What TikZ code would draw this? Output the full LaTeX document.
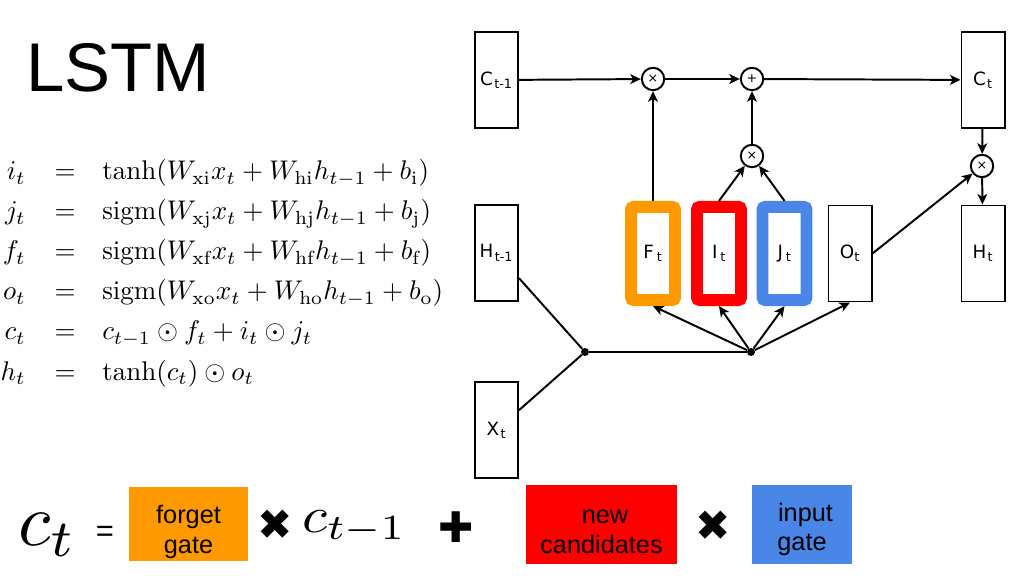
\documentclass[tikz,border=0pt]{standalone}
\usepackage{amsmath}
\usepackage{graphicx}
\usepackage{fontspec}
\setsansfont{Liberation Sans}
\newfontfamily\cellfont{DejaVu Sans}
\usetikzlibrary{arrows.meta}

\definecolor{gorange}{HTML}{FF9900}
\definecolor{gred}{HTML}{FF0000}
\definecolor{gblue}{HTML}{4A86E8}

\tikzset{
    >={Stealth[length=7.5pt, width=7pt, inset=2pt]},
    cell/.style={draw, line width=1.4pt, minimum width=1.075cm, minimum height=2.4cm,
        inner sep=0pt, font=\cellfont\fontsize{13}{15}\selectfont},
    gate/.style={cell, line width=8.5pt, rounded corners=2pt, minimum width=1.1cm, minimum height=2.33cm},
    op/.style={draw, circle, line width=1.4pt, minimum size=0.56cm, inner sep=0pt,
        font=\cellfont\fontsize{9}{9}\selectfont},
    dot/.style={fill, circle, minimum size=0.2cm, inner sep=0pt},
    link/.style={line width=1.4pt},
    eqn/.style={inner sep=0pt, font=\fontsize{10}{12}\selectfont},
    card/.style={align=center, inner sep=0pt, font=\sffamily\fontsize{18}{21}\selectfont},
    bigsym/.style={inner sep=0pt, font=\cellfont\fontsize{30}{30}\selectfont},
}

\newcommand{\eqscale}[1]{\scalebox{1.92}{$#1$}}
\newcommand{\cardtop}[1][24pt]{\rule{0pt}{#1}}

\begin{document}
\begin{tikzpicture}[x=0.025cm, y=-0.025cm]

    \useasboundingbox (0,0) rectangle (1024,576);

    % Title
    \node[font=\sffamily\fontsize{49}{55}\selectfont] (title) at (118,68) {LSTM};

    % Equations
    \foreach \lhs/\rhs [count=\i] in {
        {i_t}/{\tanh(W_{\mathrm{xi}}x_t + W_{\mathrm{hi}}h_{t-1} + b_{\mathrm{i}})},
        {j_t}/{\mathrm{sigm}(W_{\mathrm{xj}}x_t + W_{\mathrm{hj}}h_{t-1} + b_{\mathrm{j}})},
        {f_t}/{\mathrm{sigm}(W_{\mathrm{xf}}x_t + W_{\mathrm{hf}}h_{t-1} + b_{\mathrm{f}})},
        {o_t}/{\mathrm{sigm}(W_{\mathrm{xo}}x_t + W_{\mathrm{ho}}h_{t-1} + b_{\mathrm{o}})},
        {c_t}/{c_{t-1} \odot f_t + i_t \odot j_t},
        {h_t}/{\tanh(c_t) \odot o_t}}
    {
        \node[eqn, anchor=base east] (lhs\i) at (26,{140+40*\i}) {\eqscale{\lhs}};
        \node[eqn, anchor=base] (eq\i) at (65,{140+40*\i}) {\eqscale{=}};
        \node[eqn, anchor=base west] (rhs\i) at (102,{140+40*\i}) {\eqscale{\rhs}};
    }

    % Cells
    \node[cell] (Cp) at (496.5,80) {C\kern1pt\textsubscript{t-1}};
    \node[cell] (Hp) at (496.5,253) {H\kern1pt\textsubscript{t-1}};
    \node[cell] (X) at (496.5,430) {X\kern1pt\textsubscript{t}};
    \node[cell] (Cn) at (983,80) {C\kern1pt\textsubscript{t}};
    \node[cell] (Hn) at (983,253.5) {H\kern1pt\textsubscript{t}};

    % Gates
    \node[gate, draw=gorange] (F) at (653,253.5) {F\kern2pt\textsubscript{t}};
    \node[gate, draw=gred] (I) at (719,253.5) {I\kern2pt\textsubscript{t}};
    \node[gate, draw=gblue] (J) at (784.5,253.5) {J\kern2pt\textsubscript{t}};
    \node[cell] (O) at (850,253.5) {O\textsubscript{t}};

    % Operations
    \node[op] (mulF) at (653,79) {×};
    \node[op] (addC) at (752,79) {+};
    \node[op] (mulI) at (752,156) {×};
    \node[op] (mulO) at (982,166) {×};
    \node[dot] (dotL) at (585,352) {};
    \node[dot] (dotR) at (751,352) {};

    % Connectors
    \draw[->, link] (Cp) -- (mulF);
    \draw[->, link] (mulF) -- (addC);
    \draw[->, link] (addC) -- (Cn);
    \draw[->, link] (F) -- (mulF);
    \draw[->, link] (I.north) -- (mulI);
    \draw[->, link] (J.north) -- (mulI);
    \draw[->, link] (mulI) -- (addC);
    \draw[->, link] (Cn) -- (mulO);
    \draw[->, link] (mulO) -- (Hn);
    \draw[->, link] (O.east) -- (mulO);
    \draw[link] (Hp) -- (dotL);
    \draw[link] (X) -- (dotL);
    \draw[link] (dotL) -- (dotR);
    \foreach \g in {F,I,J,O}
        \draw[->, link] (dotR) -- (\g.south);

    % Cell state update
    \node[eqn, anchor=base west] (ct) at (18,545) {\scalebox{5.3}{$c_t$}};
    \node[font=\sffamily\fontsize{22}{24}\selectfont] (eqsign) at (105,534) {=};
    \node[card, fill=gorange, minimum width=2.975cm, minimum height=1.85cm] (forget) at (188.5,524) {\cardtop forget\\gate};
    \node[bigsym] (times1) at (275,525) {✖};
    \node[eqn, anchor=base west] (cprev) at (302,532) {\scalebox{4.1}[3.6]{$c_{t-1}$}};
    \node[bigsym] (plus) at (456,527) {✚};
    \node[card, fill=gred, minimum width=3.775cm, minimum height=1.975cm] (cand) at (601.5,524.5) {\cardtop[20pt] new\\candidates};
    \node[bigsym] (times2) at (713,526) {✖};
    \node[card, fill=gblue, minimum width=2.5cm, minimum height=1.975cm] (input) at (802,524.5) {\cardtop[20pt] input\\gate};

\end{tikzpicture}
\end{document}
